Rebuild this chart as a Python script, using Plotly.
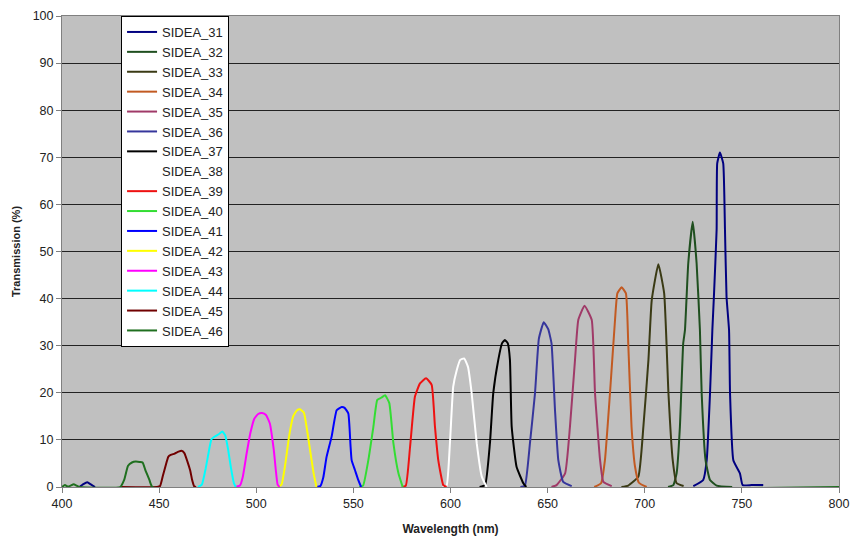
import plotly.graph_objects as go

names = ["SIDEA_31", "SIDEA_32", "SIDEA_33", "SIDEA_34", "SIDEA_35", "SIDEA_36",
         "SIDEA_37", "SIDEA_38", "SIDEA_39", "SIDEA_40", "SIDEA_41", "SIDEA_42",
         "SIDEA_43", "SIDEA_44", "SIDEA_45", "SIDEA_46"]

colors = ["#000080", "#1f4f1f", "#3a3a14", "#c25a22", "#a03a68", "#36369c",
          "#000000", "#ffffff", "#ee1111", "#33dd33", "#0000ff", "#ffff00",
          "#ff00ff", "#00ffff", "#700000", "#1f6f1f"]

wl_31 = [409, 411, 413, 415, 417, None, 725, 730.1, 731.9, 733.6, 734.8, 735.6, 737.0, 737.3, 738.7,
         740.4, 741.3, 742.1, 743.4, 743.9, 745.6, 749.0, 750.4, 755, 761]
tr_31 = [0, 0.6, 1.0, 0.5, 0, None, 0.2, 1.5, 5.7, 19.9, 33.3, 40.4, 54.6, 68.7, 71.0,
         68.7, 54.6, 40.4, 33.3, 19.9, 5.7, 2.9, 0.4, 0.4, 0.4]

wl_32 = [712, 714.7, 716.4, 718.1, 719.8, 720.7, 722.4, 724.7, 726.7, 728.4, 729.3, 731.3, 733.6, 737, 745]
tr_32 = [0, 0.4, 2.9, 12.8, 30.5, 33.3, 47.5, 56.3, 47.5, 33.3, 19.9, 5.7, 1.5, 0.3, 0]

wl_33 = [688, 691.5, 696.7, 699.3, 701.9, 703.6, 707.0, 710.0, 712.2, 714.4, 716.4, 720]
tr_33 = [0, 0.3, 2.2, 12.8, 27.0, 39.7, 47.3, 41.1, 19.9, 5.7, 0.8, 0.2]

wl_34 = [674, 677.5, 679.5, 682.1, 684.7, 685.9, 688.1, 690.3, 691.5, 693.2, 695.0, 697.0, 701]
tr_34 = [0, 0.8, 5.7, 19.9, 35.5, 41.1, 42.4, 41.1, 30.5, 12.8, 4.3, 0.9, 0]

wl_35 = [652, 654.6, 659.0, 661.5, 664.1, 665.8, 669.0, 672.7, 674.4, 677.0, 678.7, 683]
tr_35 = [0, 0.4, 2.9, 12.8, 27.0, 35.5, 38.5, 35.5, 19.9, 5.7, 1.1, 0.2]

wl_36 = [636, 638.3, 640.9, 643.5, 645.5, 648.0, 650.3, 652.0, 653.8, 655.5, 658.0, 662.4]
tr_36 = [0, 0.3, 9.3, 19.9, 31.5, 35.0, 33.5, 30.5, 16.3, 5.7, 1.1, 0.2]

wl_37 = [615, 617.8, 620.3, 622.0, 624.6, 626.5, 628.0, 629.5, 630.6, 631.5, 634.0, 637.5, 639]
tr_37 = [0, 0.4, 9.3, 19.9, 27.0, 30.5, 31.2, 30.5, 27.0, 12.8, 4.3, 0.8, 0]

wl_38 = [596, 598.0, 599.7, 601.4, 603.2, 605.0, 607.0, 609.0, 610.9, 613.5, 616.1, 618.6]
tr_38 = [0, 0.3, 9.3, 21.3, 24.8, 27.0, 27.3, 25.5, 19.9, 9.3, 2.2, 0]

wl_39 = [575, 577.0, 579.2, 581.7, 584.3, 587.4, 590.3, 592.0, 593.7, 596.3, 598]
tr_39 = [0, 0.3, 8.6, 19.2, 22.0, 23.1, 21.7, 12.8, 5.7, 0.4, 0]

wl_40 = [553, 555.0, 557.7, 560.3, 562.3, 564.5, 566.3, 568.5, 570.6, 573.2, 575.4]
tr_40 = [0, 0.3, 5.7, 12.8, 18.5, 19.0, 19.5, 17.8, 9.3, 2.9, 0]

wl_41 = [531, 533.0, 534.5, 536.2, 538.8, 541.4, 544.0, 545.5, 547.4, 548.5, 549.1, 550.8, 552.5, 554]
tr_41 = [0, 0.2, 2.0, 6.4, 10.7, 16.3, 17.0, 16.8, 15.6, 9.0, 5.7, 3.6, 1.5, 0]

wl_42 = [511, 513, 515, 517, 519, 521, 522.5, 524.5, 526, 527.7, 529.5, 531]
tr_42 = [0, 0.5, 5.0, 11.0, 15.0, 16.3, 16.5, 15.8, 12.5, 7.9, 3.0, 0]

wl_43 = [489, 491.6, 493, 495, 497, 499, 501, 503, 505, 507, 509, 511, 512]
tr_43 = [0, 0.3, 2.0, 7.0, 11.5, 14.5, 15.5, 15.7, 15.3, 13.5, 8.0, 0.5, 0]

wl_44 = [470, 472, 474, 476, 477, 479, 481, 482.5, 484, 485.5, 487, 488.5, 489.5]
tr_44 = [0, 0.5, 4.0, 8.5, 10.2, 10.8, 11.3, 11.8, 11.0, 8.0, 4.0, 0.8, 0]

wl_45 = [430, 449, 450.5, 452, 454, 454.7, 456, 458, 460, 461.5, 463, 464.5, 466, 467, 468, 469]
tr_45 = [0, 0, 0.2, 2.5, 5.5, 6.4, 6.8, 7.1, 7.5, 7.7, 7.2, 5.5, 3.5, 1.5, 0.2, 0]

wl_46 = [400, 401.5, 403, 404.5, 406, 407.5, 409, 430, 432, 434, 436, 438, 440, 441.5, 443, 445,
         446.5, 800]
tr_46 = [0, 0.4, 0.1, 0.3, 0.6, 0.3, 0, 0, 1.5, 4.5, 5.2, 5.4, 5.3, 5.2, 3.5, 1.5, 0, 0]

wavelengths = [wl_31, wl_32, wl_33, wl_34, wl_35, wl_36, wl_37, wl_38, wl_39, wl_40,
               wl_41, wl_42, wl_43, wl_44, wl_45, wl_46]
transmissions = [tr_31, tr_32, tr_33, tr_34, tr_35, tr_36, tr_37, tr_38, tr_39, tr_40,
                 tr_41, tr_42, tr_43, tr_44, tr_45, tr_46]

x_ticks = [400, 450, 500, 550, 600, 650, 700, 750, 800]
y_ticks = [0, 10, 20, 30, 40, 50, 60, 70, 80, 90, 100]

fig = go.Figure()
for name, col, xs, ys in zip(names, colors, wavelengths, transmissions):
    fig.add_trace(go.Scatter(x=xs, y=ys, mode="lines", name=name,
                             line=dict(color=col, width=2, shape="spline", smoothing=0.4)))

font_family = "Liberation Sans, Arial, sans-serif"

fig.update_layout(
    width=854, height=536,
    margin=dict(l=62, r=15, t=16, b=49),
    paper_bgcolor="#ffffff",
    plot_bgcolor="#c0c0c0",
    font=dict(family=font_family, size=12, color="#222222"),
    showlegend=True,
    legend=dict(
        x=0.076, y=1.0, xanchor="left", yanchor="top",
        bgcolor="#ffffff", bordercolor="#000000", borderwidth=1,
        font=dict(family=font_family, size=13, color="#222222"),
        traceorder="normal", itemwidth=30,
    ),
    xaxis=dict(
        range=[400, 800], tickvals=x_ticks, ticktext=[str(v) for v in x_ticks],
        showgrid=False, zeroline=False, automargin=False,
        ticks="outside", ticklen=5, tickcolor="#808080",
        showline=True, linecolor="#808080", linewidth=1, mirror=True,
        tickfont=dict(size=12.5),
        title=dict(text="<b>Wavelength (nm)</b>", font=dict(size=12, family=font_family), standoff=18),
    ),
    yaxis=dict(
        range=[0, 100], tickvals=y_ticks, ticktext=[str(v) for v in y_ticks],
        showgrid=True, gridcolor="#222222", gridwidth=1, zeroline=False, automargin=False,
        ticks="outside", ticklen=5, tickcolor="#808080",
        showline=True, linecolor="#808080", linewidth=1, mirror=True,
        tickfont=dict(size=12.5),
        title=dict(text="<b>Transmission (%)</b>", font=dict(size=11, family=font_family), standoff=9),
    ),
)

fig.write_html("out.html")
